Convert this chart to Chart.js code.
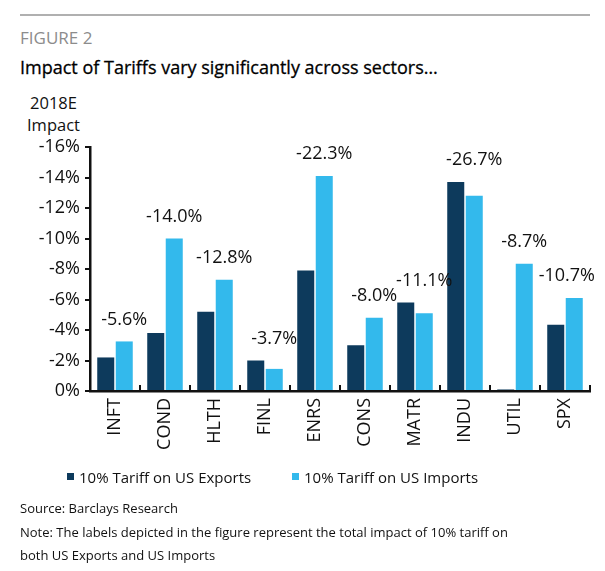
<!DOCTYPE html>
<html>
<head>
<meta charset="utf-8">
<script src="https://cdn.jsdelivr.net/npm/chart.js@4.4.0/dist/chart.umd.min.js"></script>
<style>
    body { margin: 0; background: #fff; font-family: 'Open Sans', sans-serif; color: #111; }
    .page { position: relative; width: 605px; height: 571px; overflow: hidden; }
    .rule { position: absolute; left: 20px; top: 14px; width: 570px; height: 2px; background: #b0b0b0; }
    .fig { position: absolute; left: 20px; top: 26px; font-size: 17px; color: #8c8c8c; }
    .title { position: absolute; left: 20px; top: 55px; font-size: 18px; color: #000; -webkit-text-stroke: 0.3px #000; }
    .ytitle { position: absolute; left: 27px; top: 92px; font-size: 16.5px; line-height: 22px; text-align: center; }
    .wrap { position: absolute; left: 0; top: 130px; width: 605px; height: 340px; }
    .legend { position: absolute; top: 467px; font-size: 15px; }
    .legend span.box { display: inline-block; width: 7px; height: 7px; margin-right: 5px; vertical-align: 3px; }
    .src { position: absolute; left: 20px; top: 497px; font-size: 13px; line-height: 23.5px; }
</style>
</head>
<body>
<div class="page">
    <div class="rule"></div>
    <div class="fig">FIGURE 2</div>
    <div class="title">Impact of Tariffs vary significantly across sectors…</div>
    <div class="ytitle">2018E<br>Impact</div>
    <div class="wrap"><canvas id="myChart" width="605" height="340"></canvas></div>
    <div class="legend" style="left:67px"><span class="box" style="background:#0d3a5c"></span>10% Tariff on US Exports</div>
    <div class="legend" style="left:292px"><span class="box" style="background:#33b9ec"></span>10% Tariff on US Imports</div>
    <div class="src">Source: Barclays Research<br>Note: The labels depicted in the figure represent the total impact of 10% tariff on<br>both US Exports and US Imports</div>
</div>
<script>
// sectors
var sectors = ['INFT', 'COND', 'HLTH', 'FINL', 'ENRS', 'CONS', 'MATR', 'INDU', 'UTIL', 'SPX'];
// impact, shown as positive numbers (axis prints them with a minus)
var exportsImpact = [2.2, 3.8, 5.2, 2.0, 7.9, 3.0, 5.8, 13.7, 0.1, 4.35];
var importsImpact = [3.25, 10.0, 7.3, 1.45, 14.1, 4.8, 5.1, 12.8, 8.35, 6.1];
var totalLabels = ['-5.6%', '-14.0%', '-12.8%', '-3.7%', '-22.3%', '-8.0%', '-11.1%', '-26.7%', '-8.7%', '-10.7%'];
var yTicks = [0, 2, 4, 6, 8, 10, 12, 14, 16];

var darkBlue = '#0d3a5c', lightBlue = '#33b9ec';
var labelFont = '18px "Open Sans"';

// writes the total above each sector, centred on the imports bar
var totalsPlugin = {
    id: 'totals',
    afterDatasetsDraw(chart){
        var ctx = chart.ctx;
        var m0 = chart.getDatasetMeta(0), m1 = chart.getDatasetMeta(1);
        ctx.save();
        ctx.font = labelFont;
        ctx.fillStyle = '#111';
        ctx.textAlign = 'center';
        ctx.textBaseline = 'middle';
        totalLabels.forEach( (txt, i) => {
            var top = Math.min(m0.data[i].y, m1.data[i].y);
            var x = m1.data[i].x;
            var w = ctx.measureText(txt).width;
            if( x + w/2 > chart.chartArea.right ) x = chart.chartArea.right - w/2 + 5;
            ctx.fillText(txt, x, top - 22);
        });
        ctx.restore();
    }
};

// small inward tick marks on the category axis
var xTicksPlugin = {
    id: 'xticks',
    afterDraw(chart){
        var ctx = chart.ctx, area = chart.chartArea;
        var step = (area.right - area.left) / sectors.length;
        ctx.save();
        ctx.strokeStyle = '#111';
        ctx.lineWidth = 2;
        for( var i = 1; i <= sectors.length; i++ ){
            var x = Math.round(area.left + step * i);
            ctx.beginPath();
            ctx.moveTo(x, area.bottom);
            ctx.lineTo(x, area.bottom - 6);
            ctx.stroke();
        }
        ctx.restore();
    }
};

var ctx = document.getElementById('myChart');
var myChart = new Chart(ctx, {
    type: 'bar',
    data: {
        labels: sectors,
        datasets: [{
            label: '10% Tariff on US Exports',
            data: exportsImpact,
            backgroundColor: darkBlue,
            categoryPercentage: 0.74,
            barPercentage: 0.92
        }, {
            label: '10% Tariff on US Imports',
            data: importsImpact,
            backgroundColor: lightBlue,
            categoryPercentage: 0.74,
            barPercentage: 0.92
        }]
    },
    options: {
        responsive: false,
        animation: false,
        layout: { padding: { top: 17, right: 15, left: 0, bottom: 0 } },
        plugins: { legend: { display: false }, tooltip: { enabled: false } },
        scales: {
            x: {
                grid: { display: false, drawTicks: false },
                border: { color: '#111', width: 2.5 },
                ticks: { color: '#111', font: { size: 18, family: 'Open Sans' }, minRotation: 90, maxRotation: 90, padding: 7 },
                afterFit: s => { s.height = 79; }
            },
            y: {
                min: 0, max: 16,
                afterBuildTicks: s => { s.ticks = yTicks.map(v => ({ value: v })); },
                grid: { drawOnChartArea: false, color: '#111', lineWidth: 2, tickLength: 5 },
                border: { color: '#111', width: 2.5 },
                ticks: {
                    color: '#111', padding: 5,
                    font: { size: 18, family: 'Open Sans' },
                    callback: v => v === 0 ? '0%' : '-' + v + '%'
                },
                afterFit: s => { s.width = 90; }
            }
        }
    },
    plugins: [totalsPlugin, xTicksPlugin]
});
</script>
</body>
</html>
